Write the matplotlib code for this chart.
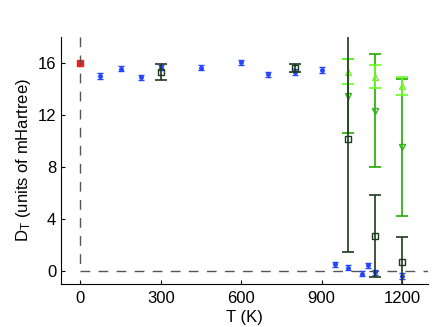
import numpy as np
import matplotlib
matplotlib.use("Agg")
import matplotlib.pyplot as plt

plt.rcParams['font.family'] = ['Liberation Sans', 'DejaVu Sans']
plt.rcParams['mathtext.default'] = 'regular'

# blue points (small error bars)
T_blue = [75, 150, 225, 300, 450, 600, 700, 800, 900, 950, 1000, 1050, 1075, 1100, 1200]
D_blue = [15.0, 15.55, 14.9, 15.67, 15.62, 16.05, 15.13, 15.3, 15.46, 0.5, 0.25, -0.2, 0.45, -0.1, -0.38]
E_blue = [0.2] * len(T_blue)

# red reference point
T_red = [0]
D_red = [16.0]

# dark green squares
T_sq = [300, 800, 1000, 1100, 1200]
D_sq = [15.3, 15.6, 10.13, 2.7, 0.67]
E_sq = [0.62, 0.3, 8.7, 3.15, 1.97]

# light green up triangles
T_up = [1000, 1100, 1200]
D_up = [15.33, 14.95, 14.2]
E_up = [0.97, 0.86, 0.7]

# green down triangles
T_dn = [1000, 1100, 1200]
D_dn = [13.46, 12.33, 9.5]
E_dn = [2.82, 4.37, 5.3]

XMIN, XMAX = -72, 1298
YMIN, YMAX = -1, 18

fig = plt.figure(figsize=(4.36, 3.27), dpi=100)
ax = fig.add_axes([0.14, 0.1315, 0.842, 0.7555])

ax.plot(T_red, D_red, 's', color='#ff1a1a', ms=5, zorder=1)

# reference dashed lines (L-shaped, meeting at the origin)
ax.plot([0, 0], [YMAX, 0], color='#555555', lw=1.0, ls=(0, (7, 6)), zorder=2)
ax.plot([0, XMAX], [0, 0], color='#555555', lw=1.0, ls=(0, (7, 6)), zorder=2)

ax.errorbar(T_blue, D_blue, yerr=E_blue, fmt='o', color='#2244ff', ms=2.5,
            capsize=2, elinewidth=1, capthick=1, zorder=3)

ax.errorbar(T_dn, D_dn, yerr=E_dn, fmt='v', mfc='none', mec='#33b31a', color='#22aa00',
            ms=5, capsize=4, elinewidth=1.2, capthick=1.2, zorder=4)
ax.errorbar(T_up, D_up, yerr=E_up, fmt='^', mfc='none', mec='#77ee33', color='#66ff22',
            ms=5, capsize=4, elinewidth=1.2, capthick=1.2, zorder=5)
ax.errorbar(T_sq, D_sq, yerr=E_sq, fmt='s', mfc='none', mec='#1e3a1e', color='#1e3a1e',
            ms=4, capsize=4, elinewidth=1.2, capthick=1.2, zorder=6)

ax.set_xlim(XMIN, XMAX)
ax.set_ylim(YMIN, YMAX)
ax.set_xticks([0, 300, 600, 900, 1200])
ax.set_yticks([0, 4, 8, 12, 16])
ax.tick_params(direction='in', length=3, labelsize=12)
ax.tick_params(axis='x', pad=5)
ax.spines['top'].set_visible(False)
ax.spines['right'].set_visible(False)
ax.set_xlabel('T (K)', fontsize=12, labelpad=3)
ax.set_ylabel('D$_T$ (units of mHartree)', fontsize=12, labelpad=3)

fig.savefig('out.png', dpi=100)
